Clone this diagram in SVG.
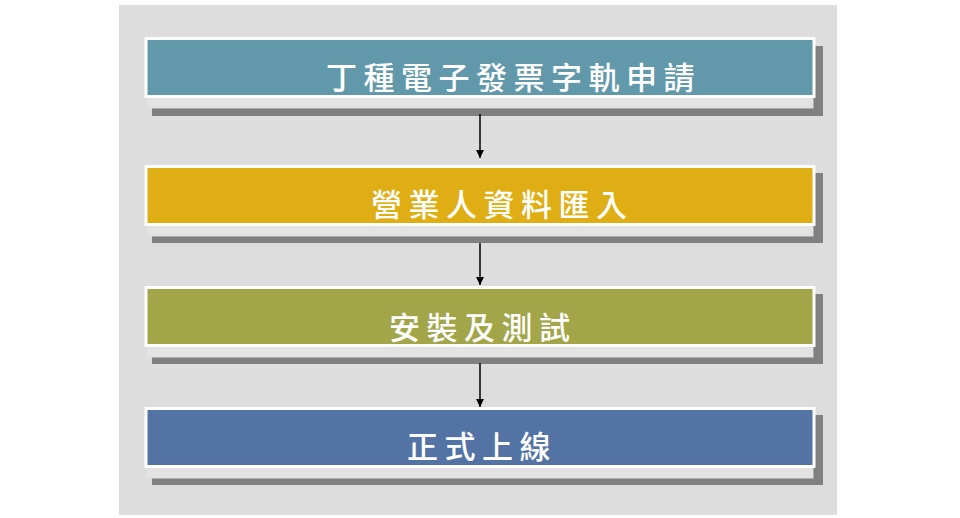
<svg xmlns="http://www.w3.org/2000/svg" width="960" height="518" viewBox="0 0 960 518">
<style>
.box{stroke:#ffffff;stroke-width:3}
.sh{fill:#808080}
.lt{fill:#e3e3e3}
.ed{fill:none;stroke:#ababab;stroke-width:1}
.lbl{font-family:"Noto Sans CJK TC","Noto Sans CJK SC",sans-serif;font-size:31px;font-weight:500;fill:#ffffff;letter-spacing:6.5px}
.con{stroke:#000000;stroke-width:1.5;fill:none;marker-end:url(#ah)}
</style>
<defs>
<marker id="ah" viewBox="0 0 8 8" refX="8" refY="4" markerWidth="8" markerHeight="8" markerUnits="userSpaceOnUse" orient="auto">
<path d="M0,0 L8,4 L0,8 Z" fill="#000000"/>
</marker>
</defs>
<rect x="119" y="5" width="718" height="510" fill="#dddddd"/>
<g id="node1">
<rect class="sh" x="152" y="46" width="671" height="70"/>
<rect class="lt" x="147" y="37" width="666" height="71"/>
<path class="ed" d="M813.5,97 V108.5 H152"/>
<rect class="box" x="146" y="38.5" width="668" height="58" fill="#6199ab"/>
<text class="lbl" x="326" y="89">丁種電子發票字軌申請</text>
</g>
<g id="node2">
<rect class="sh" x="152" y="173" width="671" height="70"/>
<rect class="lt" x="147" y="165" width="666" height="71"/>
<path class="ed" d="M813.5,225 V236.5 H152"/>
<rect class="box" x="146" y="166.5" width="668" height="58" fill="#dfae14"/>
<text class="lbl" x="371" y="216">營業人資料匯入</text>
</g>
<g id="node3">
<rect class="sh" x="152" y="294" width="671" height="70"/>
<rect class="lt" x="147" y="286" width="666" height="71"/>
<path class="ed" d="M813.5,346 V357.5 H152"/>
<rect class="box" x="146" y="287.5" width="668" height="58" fill="#a2a548"/>
<text class="lbl" x="389" y="339">安裝及測試</text>
</g>
<g id="node4">
<rect class="sh" x="152" y="415" width="671" height="70"/>
<rect class="lt" x="147" y="407" width="666" height="71"/>
<path class="ed" d="M813.5,467 V478.5 H152"/>
<rect class="box" x="146" y="408.5" width="668" height="58" fill="#5273a3"/>
<text class="lbl" x="407" y="458">正式上線</text>
</g>
<g id="connectors">
<line class="con" x1="480" y1="114" x2="480" y2="158"/>
<line class="con" x1="480" y1="243" x2="480" y2="285"/>
<line class="con" x1="480" y1="363" x2="480" y2="407"/>
</g>
</svg>
